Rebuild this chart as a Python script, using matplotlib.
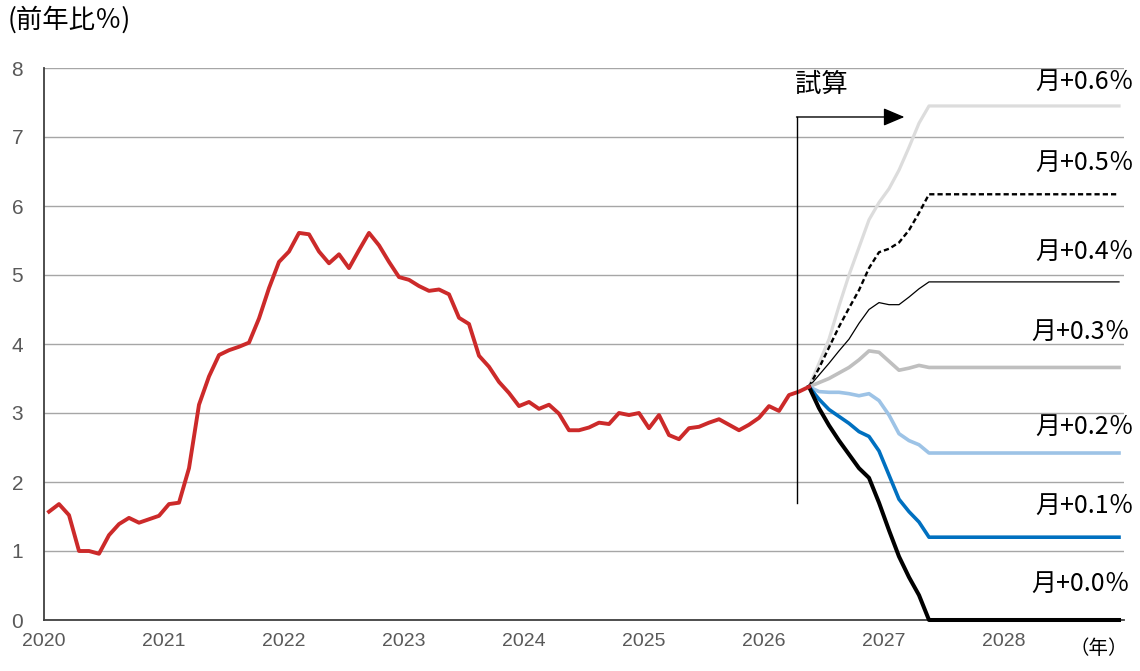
import numpy as np
import matplotlib
matplotlib.use("Agg")
import matplotlib.pyplot as plt

JP = ["Noto Sans CJK JP", "DejaVu Sans"]
NUM = "Liberation Sans"

# ── data ──────────────────────────────────────────────────────────────────────
# actual CPI, y/y %, monthly Jan 2020 - May 2026
actual = [1.57, 1.68, 1.52, 1.00, 1.00, 0.96, 1.23, 1.39, 1.48, 1.41, 1.46, 1.51,
          1.68, 1.70, 2.20, 3.12, 3.53, 3.84, 3.91, 3.96, 4.02, 4.37, 4.81, 5.19,
          5.34, 5.61, 5.59, 5.34, 5.17, 5.30, 5.10, 5.36, 5.61, 5.43, 5.19, 4.97,
          4.93, 4.84, 4.77, 4.79, 4.72, 4.38, 4.29, 3.83, 3.67, 3.45, 3.29, 3.10,
          3.16, 3.06, 3.12, 2.99, 2.75, 2.75, 2.79, 2.86, 2.84, 3.00, 2.97, 3.00,
          2.78, 2.97, 2.68, 2.62, 2.78, 2.80, 2.86, 2.91, 2.83, 2.75, 2.83, 2.93,
          3.10, 3.03, 3.26, 3.31, 3.38]

# scenario paths, May 2026 - May 2027, then flat to Dec 2028
sim_labels = ["月+0.6％", "月+0.5％", "月+0.4％", "月+0.3％", "月+0.2％", "月+0.1％", "月+0.0％"]
sim_06 = [3.38, 3.72, 4.07, 4.55, 5.00, 5.40, 5.80, 6.05, 6.25, 6.52, 6.85, 7.20, 7.45]
sim_05 = [3.38, 3.65, 3.95, 4.25, 4.52, 4.78, 5.10, 5.33, 5.38, 5.47, 5.65, 5.90, 6.17]
sim_04 = [3.38, 3.55, 3.72, 3.90, 4.07, 4.30, 4.50, 4.60, 4.57, 4.57, 4.68, 4.80, 4.90]
sim_03 = [3.38, 3.44, 3.50, 3.58, 3.66, 3.77, 3.90, 3.88, 3.75, 3.62, 3.65, 3.69, 3.66]
sim_02 = [3.38, 3.31, 3.30, 3.30, 3.28, 3.25, 3.28, 3.18, 2.97, 2.70, 2.60, 2.54, 2.42]
sim_01 = [3.38, 3.20, 3.05, 2.95, 2.85, 2.73, 2.66, 2.45, 2.10, 1.75, 1.57, 1.42, 1.20]
sim_00 = [3.38, 3.07, 2.82, 2.60, 2.40, 2.20, 2.06, 1.70, 1.30, 0.92, 0.62, 0.36, 0.00]
sim_series = [sim_06, sim_05, sim_04, sim_03, sim_02, sim_01, sim_00]
label_y = [7.80, 6.63, 5.33, 4.18, 2.80, 1.66, 0.53]

years = list(range(2020, 2029))

# ── styles ────────────────────────────────────────────────────────────────────
styles = [
    dict(color="#dcdcdc", lw=2.3, ls="-"),
    dict(color="#000000", lw=1.7, ls=(0, (2.2, 1.3))),
    dict(color="#000000", lw=0.9, ls="-"),
    dict(color="#bfbfbf", lw=2.6, ls="-"),
    dict(color="#9dc3e6", lw=2.6, ls="-"),
    dict(color="#0070c0", lw=2.6, ls="-"),
    dict(color="#000000", lw=2.9, ls="-"),
]
label_x = [2029.08, 2029.08, 2029.08, 2029.05, 2029.08, 2029.08, 2029.05]


def month_x(i):
    return 2020 + (np.asarray(i) + 0.5) / 12


fig = plt.figure(figsize=(11.4, 6.71), dpi=100)
ax = fig.add_axes([44 / 1140, 1 - 620 / 671, 1080 / 1140, 552 / 671])

ax.set_xlim(2020, 2029)
ax.set_ylim(0, 8)
ax.set_yticks(range(0, 9))
ax.set_xticks(years)
ax.set_xticklabels([str(y) for y in years])
ax.grid(axis="y", color="#a6a6a6", lw=1.0)
ax.set_axisbelow(True)
for s in ["top", "right"]:
    ax.spines[s].set_visible(False)
ax.spines["left"].set_color("#404040")
ax.spines["left"].set_linewidth(1.3)
ax.spines["bottom"].set_color("#404040")
ax.spines["bottom"].set_linewidth(1.3)
ax.tick_params(length=0, labelsize=14, labelcolor="#595959")
ax.tick_params(axis="y", labelsize=15, pad=15)
ax.tick_params(axis="x", pad=9)
for lab in ax.get_xticklabels() + ax.get_yticklabels():
    lab.set_family(NUM)

# actual
n_act = len(actual)
ax.plot(month_x(np.arange(n_act)), actual, color="#cc2a2a", lw=2.8,
        solid_joinstyle="round", zorder=5)

# scenarios (start from the last actual month)
start = n_act - 1
end = 107
for vals, st in zip(sim_series, styles):
    idx = list(range(start, start + len(vals))) + [end]
    ax.plot(month_x(idx), list(vals) + [vals[-1]], color=st["color"],
            lw=st["lw"], ls=st["ls"], zorder=4, clip_on=False)

for lab, xv, yv in zip(sim_labels, label_x, label_y):
    ax.text(xv, yv, lab, ha="right", va="center", fontsize=18,
            family=JP, color="#000000", clip_on=False)

# 試算 marker
x0 = 2026.275
ax.plot([x0, x0], [1.70, 7.29], color="#000000", lw=1.0, zorder=6)
ax.annotate("", xy=(2027.17, 7.29), xytext=(x0 - 0.004, 7.29),
            arrowprops=dict(arrowstyle="-|>,head_length=1.3,head_width=0.55",
                            color="#000000", lw=1.0, shrinkA=0, shrinkB=0),
            zorder=6)
ax.text(2026.26, 7.76, "試算", ha="left", va="center", fontsize=19,
        family=JP, color="#000000")

fig.text(8 / 1140, 1 - 20 / 671, "(前年比％)", ha="left", va="center",
         fontsize=19, family=JP, color="#000000")
fig.text(1099 / 1140, 1 - 648 / 671, "（年）", ha="center", va="center",
         fontsize=14, family=JP, color="#000000")

fig.savefig("out.png", dpi=100)
